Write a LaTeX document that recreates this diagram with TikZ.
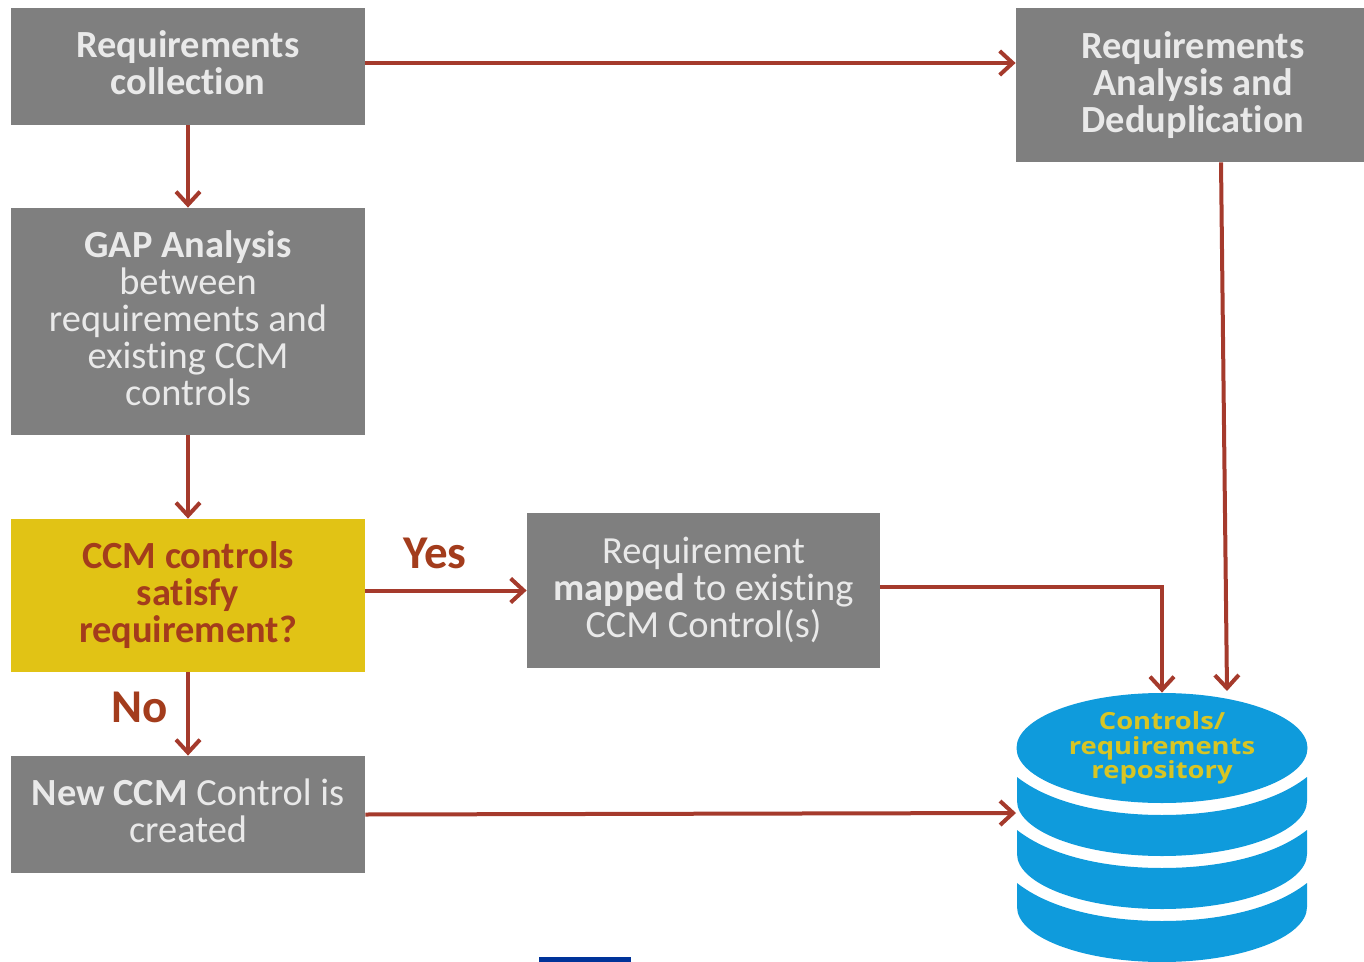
\documentclass[tikz,border=0pt]{standalone}
\usepackage{fontspec}
\setmainfont{Carlito}[Ligatures=NoCommon]
\newfontfamily\repofont{Open Sans}[FakeStretch=1.16]
\usetikzlibrary{arrows.meta,shapes.geometric}
\definecolor{boxgray}{HTML}{7F7F7F}
\definecolor{boxyellow}{HTML}{E1C315}
\definecolor{arrowred}{HTML}{A53A2C}
\definecolor{textred}{HTML}{A33C1C}
\definecolor{textwhite}{HTML}{E9E9E9}
\definecolor{repoblue}{HTML}{0F9BDC}
\definecolor{repotext}{HTML}{D8C524}
\definecolor{markblue}{HTML}{003399}

\begin{document}
\begin{tikzpicture}[x=0.5pt,y=-0.5pt,
		boxnode/.style={fill=boxgray, text=textwhite, minimum width=177pt, align=center, inner sep=0pt, font=\fontsize{19.2}{18.5}\selectfont},
		asknode/.style={boxnode, fill=boxyellow, text=textred, font=\fontsize{19.2}{18.5}\selectfont\bfseries},
		answer/.style={text=textred, inner sep=0pt, font=\fontsize{23.5}{24}\selectfont\bfseries},
		flow/.style={draw=arrowred, line width=2pt, -{Straight Barb[length=6.5pt,width=12pt,line width=2pt]}},
		band/.style={fill=repoblue, draw=none}
			]
	\useasboundingbox (0,0) rectangle (1364,962);

	\node[boxnode, minimum height=58.5pt, text depth=4.2pt] (reqcoll) at (188,66.5) {\bfseries Requirements\\\bfseries collection};
	\node[boxnode, minimum height=77pt, text depth=3pt] (reqana) at (1193,85) {\bfseries Requirements\\\bfseries Analysis and\\\bfseries Deduplication};
	\node[boxnode, minimum height=113.5pt, text depth=3.7pt] (gap) at (188,321.5) {\textbf{GAP Analysis}\\between\\requirements and\\existing CCM\\controls};
	\node[asknode, minimum height=76.5pt, text depth=3pt] (sat) at (188,595.5) {CCM controls\\satisfy\\requirement?};
	\node[boxnode, minimum width=176.5pt, minimum height=77.5pt, text depth=3.5pt] (mapped) at (703.5,590.5) {Requirement\\\textbf{mapped} to existing\\CCM Control(s)};
	\node[boxnode, minimum height=58.5pt, text depth=4.2pt] (newctl) at (188,814.5) {\textbf{New CCM} Control is\\created};

	\foreach \yy in {0,53,106} {
		\fill[band] (1017,777+\yy) .. controls (1050,803+\yy) and (1105,815+\yy) .. (1162,815+\yy)
			.. controls (1219,815+\yy) and (1274,803+\yy) .. (1307,777+\yy)
			-- (1307,801+\yy) .. controls (1307,831+\yy) and (1242,856+\yy) .. (1162,856+\yy)
			.. controls (1082,856+\yy) and (1017,831+\yy) .. (1017,801+\yy) -- cycle;
	}
	\node[ellipse, band, minimum width=145.5pt, minimum height=55pt, inner sep=0pt] (repo) at (1162,748) {};
	\node[text=repotext, align=center, inner sep=0pt, font=\repofont\fontsize{11.8}{12.4}\selectfont\bfseries] (repolabel) at (repo.center) {Controls/\\requirements\\repository};

	\coordinate (repoin) at (1227,691);
	\coordinate (repoleft) at (1016,813);

	\draw[flow] ([yshift=1.75pt]reqcoll.east) -- ([yshift=1.75pt]reqcoll.east -| reqana.west);
	\draw[flow] (reqcoll.south) -- (gap.north);
	\draw[flow] (gap.south) -- (sat.north);
	\draw[flow] (sat.east |- mapped.west) -- (mapped.west);
	\draw[flow] (sat.south) -- (newctl.north);
	\draw[flow] ([xshift=14pt]reqana.south) -- (repoin);
	\draw[flow] ([yshift=1.75pt]mapped.east) -| (repo.north);
	\draw[flow] (newctl.east) -- (repoleft);

	\node[answer] (yes) at (435,553) {Yes};
	\node[answer] (no) at (140,707) {No};

	\fill[markblue] (539,957) rectangle (631,962);
\end{tikzpicture}
\end{document}
